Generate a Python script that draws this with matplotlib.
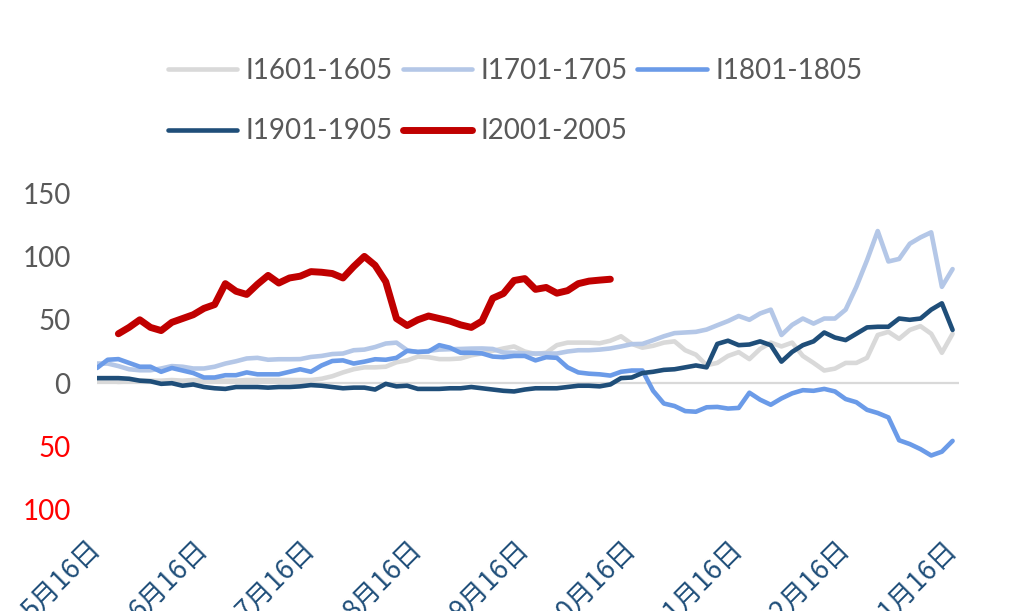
import numpy as np
import matplotlib
matplotlib.use("Agg")
import matplotlib.pyplot as plt

# 每月16日为刻度，每月取10个点
month_labels = ["5月16日", "6月16日", "7月16日", "8月16日", "9月16日",
                "10月16日", "11月16日", "12月16日", "1月16日"]
pts_per_month = 10

i1601 = [2, 2, 1, 1.5, 2, 2, 2, 2.5, 2, 2.5,
         2.5, 2.5, 2, 2, 2.5, 2.5, 2.5, 2.5, 2.5, 2.5,
         2.5, 3.5, 5.5, 8.5, 11, 12.5, 12.5, 13, 16.5, 18,
         21, 20.5, 19, 19, 19.5, 22, 23.5, 25.5, 27.4, 29,
         25, 23, 24, 30, 32, 32, 32, 31.5, 33.5, 37,
         31, 28, 29.5, 32, 33, 26, 22.5, 14.2, 16, 21.5,
         24.5, 19, 27, 32, 29, 32, 21.5, 16, 10, 11.5,
         16, 16, 20, 38, 40.5, 35, 42, 45, 39, 24, 39]
i1701 = [15.5, 15.5, 13.5, 11, 10.2, 10.2, 11.6, 13.5, 13, 11.6,
         11.6, 13, 15.5, 17.3, 19.5, 20, 18.5, 18.9, 18.9, 19,
         20.7, 21.5, 23, 23.4, 26, 26.5, 28.5, 31.3, 32, 26,
         24.5, 25.5, 26.5, 26.8, 27, 27.3, 27.4, 27, 24.2, 24,
         23.5, 23.4, 23.4, 23.4, 25, 26, 26, 26.5, 27.4, 29,
         30.8, 31, 33.9, 37, 39.5, 40, 40.5, 42.3, 45.7, 49,
         53, 50, 55, 58, 38, 46, 51, 47, 51, 51,
         58, 76, 97, 120, 96, 98, 110, 115, 119, 76, 90]
i1801 = [12, 18.5, 19, 16, 13, 13, 9, 12, 10, 8,
         4.5, 4.5, 6.3, 6.3, 8.5, 7, 7, 7, 9, 11,
         9, 14, 17.5, 18, 15.5, 17, 18.9, 18.5, 20, 25.5,
         24.7, 25, 30, 28, 24, 24, 23.5, 21, 20.5, 21.5,
         21.5, 18, 20.5, 20, 12.5, 8.5, 7.5, 7, 6, 9,
         10, 10, -6, -16, -18, -22, -22.5, -19, -18.7, -20,
         -19.5, -7.5, -13, -17, -12, -8, -5.5, -6, -4.5, -6.5,
         -12.5, -15, -21, -23.5, -27, -45, -48, -52, -57, -54, -45.5]
i1901 = [4, 4, 4, 3.5, 2, 1.5, -0.5, 0, -2, -1,
         -3, -4, -4.5, -3, -3, -3, -3.5, -3, -3, -2.5,
         -1.5, -2, -3, -4, -3.5, -3.5, -5, -0.5, -2.5, -2,
         -4.5, -4.5, -4.5, -4, -4, -3, -4, -5, -6, -6.5,
         -5, -4, -4, -4, -3, -2, -2, -2.5, -1, 4,
         4.5, 8, 9, 10.5, 11, 12.5, 14, 12.5, 31, 33.5,
         30, 30.5, 33, 30, 17, 24.7, 30, 33, 40, 36,
         34, 39, 44, 44.5, 44.5, 51, 50, 51, 58, 63, 42]
# I2001-2005 从第3个点开始，到第49个点结束
i2001_start = 2
i2001 = [39, 44, 50, 44, 41.5, 48, 51, 54, 59, 62,
         78.5, 72.5, 70, 78, 85, 79, 83, 84.4, 88, 87.5,
         86.5, 83, 92, 100, 93, 80, 51, 45.5, 50, 53,
         51, 49, 46, 44, 49, 67, 70.7, 81, 82.5, 74,
         75.5, 71, 73, 78.5, 80.5, 81.3, 82]

series = [
    ("I1601-1605", i1601, 0, "#d9d9d9", 3.3),
    ("I1701-1705", i1701, 0, "#b4c7e7", 3.3),
    ("I1801-1805", i1801, 0, "#6b9be8", 3.3),
    ("I1901-1905", i1901, 0, "#1f4e79", 3.3),
    ("I2001-2005", i2001, i2001_start, "#c00000", 5.0),
]

plt.rcParams["font.family"] = ["Lato", "DejaVu Sans"]

fig = plt.figure(figsize=(10.13, 6.11), dpi=100)
ax = fig.add_axes([97 / 1013, 101 / 611, 862 / 1013, 317 / 611])

ax.axhline(0, color="#d9d9d9", lw=1.6, zorder=1)

handles = {}
for name, vals, start, color, lw in series:
    x = (start + np.arange(len(vals))) / pts_per_month
    h, = ax.plot(x, vals, color=color, lw=lw, solid_joinstyle="round",
                 solid_capstyle="round", label=name, zorder=2)
    handles[name] = h

ax.set_xlim(0, 8.06)
ax.set_ylim(-100, 150)

for s in ax.spines.values():
    s.set_visible(False)

yticks = [-100, -50, 0, 50, 100, 150]
ax.set_yticks(yticks)
ax.set_yticklabels([str(abs(v)) for v in yticks])
for lbl, v in zip(ax.get_yticklabels(), yticks):
    lbl.set_color("red" if v < 0 else "#595959")
    lbl.set_fontsize(20)
ax.tick_params(axis="y", length=0, pad=19)

ax.set_xticks(np.arange(len(month_labels)))
ax.set_xticklabels(month_labels, rotation=45, ha="right", va="center",
                   rotation_mode="anchor", color="#1f4e79", fontsize=19.5,
                   family=["Noto Sans CJK SC", "DejaVu Sans"])
ax.tick_params(axis="x", length=0, pad=25)

# 图例按行排列
order = ["I1601-1605", "I1901-1905", "I1701-1705", "I2001-2005", "I1801-1805"]
fig.legend([handles[k] for k in order], order, loc="upper left",
           bbox_to_anchor=(168 / 1013, 1 - 58 / 611), ncol=3, frameon=False,
           fontsize=20, labelcolor="#595959", handlelength=2.5,
           handletextpad=0.3, columnspacing=0.35, labelspacing=1.24,
           borderpad=0, borderaxespad=0)

fig.savefig("out.png", dpi=100)
